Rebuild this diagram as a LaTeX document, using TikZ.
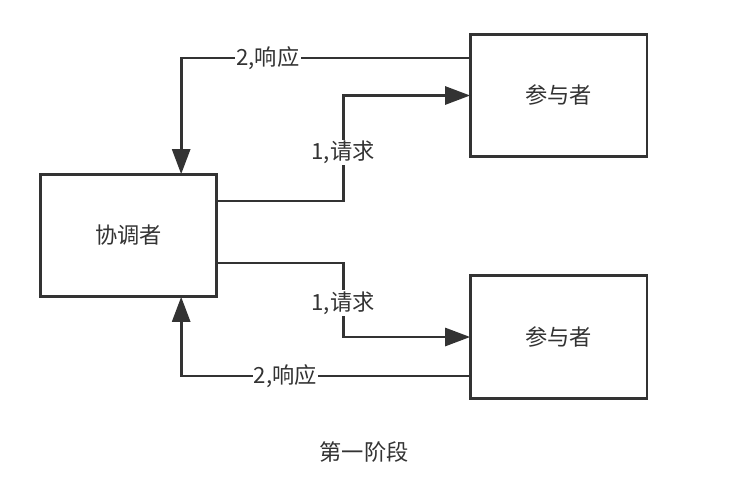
\documentclass[tikz,border=0pt]{standalone}
\usepackage{fontspec}
\setmainfont{Noto Sans CJK SC}
\usetikzlibrary{arrows.meta}
\usetikzlibrary{positioning}
\definecolor{linegray}{HTML}{333333}
\tikzset{
    box/.style = {rectangle, draw=linegray, line width=2.3pt, minimum width=5.3cm, minimum height=3.68cm, text=linegray, outer sep=0pt},
    link/.style = {-{Triangle[length=0.75cm,width=0.54cm]}, draw=linegray, line width=2.3pt},
    lbl/.style = {fill=white, text=linegray, inner sep=1pt},
}

\begin{document}
\begin{tikzpicture}[
	x=0.03cm, y=-0.03cm,
	font=\fontsize{19}{22}\selectfont
]
\useasboundingbox (0,0) rectangle (740,498);
\node[box] at (128.5,235.5) (coord) {协调者};
\node[box] at (558.5,95.5) (pa) {参与者};
\node[box] at (558.5,337) (pb) {参与者};
%
\draw[link] ([yshift=1.035cm]coord.east) -| node[lbl,pos=0.73] {1,请求} ([xshift=-3.81cm]pa.west) -- (pa.west);
\draw[link] ([yshift=1.125cm]pa.west) -| node[lbl,pos=0.35] {2,响应} ([xshift=1.58cm]coord.north);
%
\draw[link] ([yshift=-0.825cm]coord.east) -| node[lbl,pos=0.77] {1,请求} ([xshift=-3.81cm]pb.west) -- (pb.west);
\draw[link] ([yshift=-1.17cm]pb.west) -| node[lbl,pos=0.32] {2,响应} ([xshift=1.58cm]coord.south);
%
\node[text=linegray] at (364,452) (caption) {第一阶段};
\end{tikzpicture}
\end{document}
